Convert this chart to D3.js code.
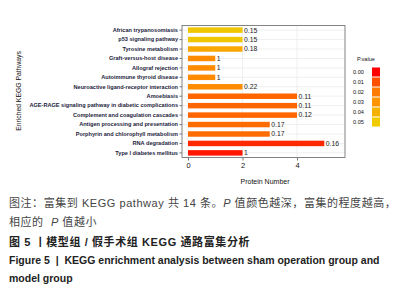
<!DOCTYPE html>
<html>
<head>
<meta charset="utf-8">
<script src="https://cdn.jsdelivr.net/npm/d3@7"></script>
<style>
  body { margin: 0; background: #fff; }
  svg { display: block; }
  text { white-space: pre; }
</style>
</head>
<body>
<div id="chart"></div>
<script>
const pathways = [
  "African trypanosomiasis",
  "p53 signaling pathway",
  "Tyrosine metabolism",
  "Graft-versus-host disease",
  "Allograf rejection",
  "Autoimmune thyroid disease",
  "Neuroactive ligand-receptor interaction",
  "Amoebiasis",
  "AGE-RAGE signaling pathway in diabetic complications",
  "Complement and coagulation cascades",
  "Antigen processing and presentation",
  "Porphyrin and chlorophyll metabolism",
  "RNA degradation",
  "Type I diabetes mellitus"
];
const proteinNumber = [2, 2, 2, 1, 1, 1, 2, 4, 4, 4, 3, 3, 5, 2];
const barLabels = ["0.15", "0.15", "0.18", "1", "1", "1", "0.22", "0.11", "0.11", "0.12", "0.17", "0.17", "0.16", "1"];
const pValues = [0.048, 0.048, 0.037, 0.027, 0.027, 0.027, 0.027, 0.015, 0.015, 0.015, 0.017, 0.017, 0.005, 0.003];
const legendValues = [0.00, 0.01, 0.02, 0.03, 0.04, 0.05];
const legendColors = ["#ff0000", "#ff4f00", "#ff7a00", "#ff9400", "#f5b100", "#efcb00"];
const xTicks = [0, 2, 4];

const width = 404, height = 295;
const plot = { left: 182, right: 345, top: 25.5, bottom: 157.5 };

const svg = d3.select("#chart")
  .append("svg")
  .attr("width", width)
  .attr("height", height);

const x = d3.scaleLinear().domain([-0.22, 5.76]).range([plot.left, plot.right]);
const y = d3.scaleBand().domain(pathways).range([plot.top, plot.bottom]).paddingInner(0.42).paddingOuter(0.2);
const color = d3.scaleLinear().domain(legendValues).range(legendColors);

// grid
svg.append("g")
  .selectAll("line")
  .data(pathways)
  .join("line")
  .attr("x1", plot.left).attr("x2", plot.right)
  .attr("y1", d => y(d) + y.bandwidth() / 2)
  .attr("y2", d => y(d) + y.bandwidth() / 2)
  .attr("stroke", "#ebebeb").attr("stroke-width", 0.8);

svg.append("g")
  .selectAll("line")
  .data(xTicks)
  .join("line")
  .attr("x1", d => x(d)).attr("x2", d => x(d))
  .attr("y1", plot.top).attr("y2", plot.bottom)
  .attr("stroke", "#ebebeb").attr("stroke-width", 0.8);

// bars
svg.append("g")
  .selectAll("rect")
  .data(pathways)
  .join("rect")
  .attr("x", x(0))
  .attr("y", d => y(d))
  .attr("width", (d, i) => x(proteinNumber[i]) - x(0))
  .attr("height", y.bandwidth())
  .attr("fill", (d, i) => color(pValues[i]));

// value labels
svg.append("g")
  .attr("font-family", "Liberation Sans, Arial, sans-serif")
  .attr("font-size", 6.8)
  .attr("fill", "#222")
  .selectAll("text")
  .data(pathways)
  .join("text")
  .attr("x", (d, i) => x(proteinNumber[i]) + 1.5)
  .attr("y", d => y(d) + y.bandwidth() / 2)
  .attr("dy", "0.35em")
  .text((d, i) => barLabels[i]);

// frame
svg.append("rect")
  .attr("x", plot.left).attr("y", plot.top)
  .attr("width", plot.right - plot.left).attr("height", plot.bottom - plot.top)
  .attr("fill", "none").attr("stroke", "#777").attr("stroke-width", 0.9);

// y axis
const yAxis = svg.append("g")
  .attr("transform", `translate(${plot.left},0)`)
  .call(d3.axisLeft(y).tickSize(2.5).tickPadding(1.5));
yAxis.select(".domain").remove();
yAxis.selectAll(".tick line").attr("stroke", "#777");
yAxis.selectAll("text")
  .attr("font-family", "Liberation Sans, Arial, sans-serif")
  .attr("font-size", 5.6)
  .attr("font-weight", "bold")
  .attr("fill", "#1c1c3c");

// x axis
const xAxis = svg.append("g")
  .attr("transform", `translate(0,${plot.bottom})`)
  .call(d3.axisBottom(x).tickValues(xTicks).tickFormat(d3.format("d")).tickSize(3).tickPadding(2));
xAxis.select(".domain").remove();
xAxis.selectAll(".tick line").attr("stroke", "#777");
xAxis.selectAll("text")
  .attr("font-family", "Liberation Sans, Arial, sans-serif")
  .attr("font-size", 7.5)
  .attr("fill", "#111");

svg.append("text")
  .attr("x", 265).attr("y", 184)
  .attr("text-anchor", "middle")
  .attr("font-family", "Liberation Sans, Arial, sans-serif")
  .attr("font-size", 7)
  .attr("fill", "#111")
  .text("Protein Number");

svg.append("text")
  .attr("transform", "translate(21,91) rotate(-90)")
  .attr("text-anchor", "middle")
  .attr("font-family", "Liberation Sans, Arial, sans-serif")
  .attr("font-size", 6.8)
  .attr("fill", "#111")
  .text("Enriched KEGG Pathways");

// legend
const legend = svg.append("g");
legend.append("text")
  .attr("x", 357).attr("y", 61)
  .attr("font-family", "Liberation Sans, Arial, sans-serif")
  .attr("font-size", 5.6)
  .attr("fill", "#111")
  .text("P.value");
legend.selectAll("rect")
  .data(legendValues)
  .join("rect")
  .attr("x", 372)
  .attr("y", (d, i) => 67.5 + i * 10)
  .attr("width", 8)
  .attr("height", 9)
  .attr("fill", d => color(d));
legend.selectAll("text.lv")
  .data(legendValues)
  .join("text")
  .attr("class", "lv")
  .attr("x", 353)
  .attr("y", (d, i) => 72 + i * 10)
  .attr("dy", "0.35em")
  .attr("font-family", "Liberation Sans, Arial, sans-serif")
  .attr("font-size", 5.6)
  .attr("fill", "#111")
  .text(d => d.toFixed(2));

// caption
const cjk = "'Liberation Sans', 'Noto Sans CJK SC', sans-serif";
const cap1 = svg.append("text").attr("x", 9).attr("y", 207)
  .attr("font-family", cjk).attr("font-size", 11).attr("letter-spacing", 0.55).attr("fill", "#444");
cap1.append("tspan").text("图注：富集到 KEGG pathway 共 14 条。");
cap1.append("tspan").attr("font-style", "italic").text("P");
cap1.append("tspan").text(" 值颜色越深，富集的程度越高，");

const cap2 = svg.append("text").attr("x", 9).attr("y", 226)
  .attr("font-family", cjk).attr("font-size", 11).attr("letter-spacing", 0.55).attr("fill", "#444");
cap2.append("tspan").text("相应的  ");
cap2.append("tspan").attr("font-style", "italic").text("P");
cap2.append("tspan").text(" 值越小");

svg.append("text").attr("x", 9).attr("y", 246)
  .attr("font-family", cjk).attr("font-size", 11).attr("letter-spacing", 0.6).attr("font-weight", "bold").attr("fill", "#222")
  .text("图 5 丨模型组 / 假手术组 KEGG 通路富集分析");

svg.append("text").attr("x", 9).attr("y", 263.5)
  .attr("font-family", cjk).attr("font-size", 10.5).attr("font-weight", "bold").attr("fill", "#222")
  .text("Figure 5  |  KEGG enrichment analysis between sham operation group and");

svg.append("text").attr("x", 9).attr("y", 281.5)
  .attr("font-family", cjk).attr("font-size", 10.5).attr("font-weight", "bold").attr("fill", "#222")
  .text("model group");
</script>
</body>
</html>
